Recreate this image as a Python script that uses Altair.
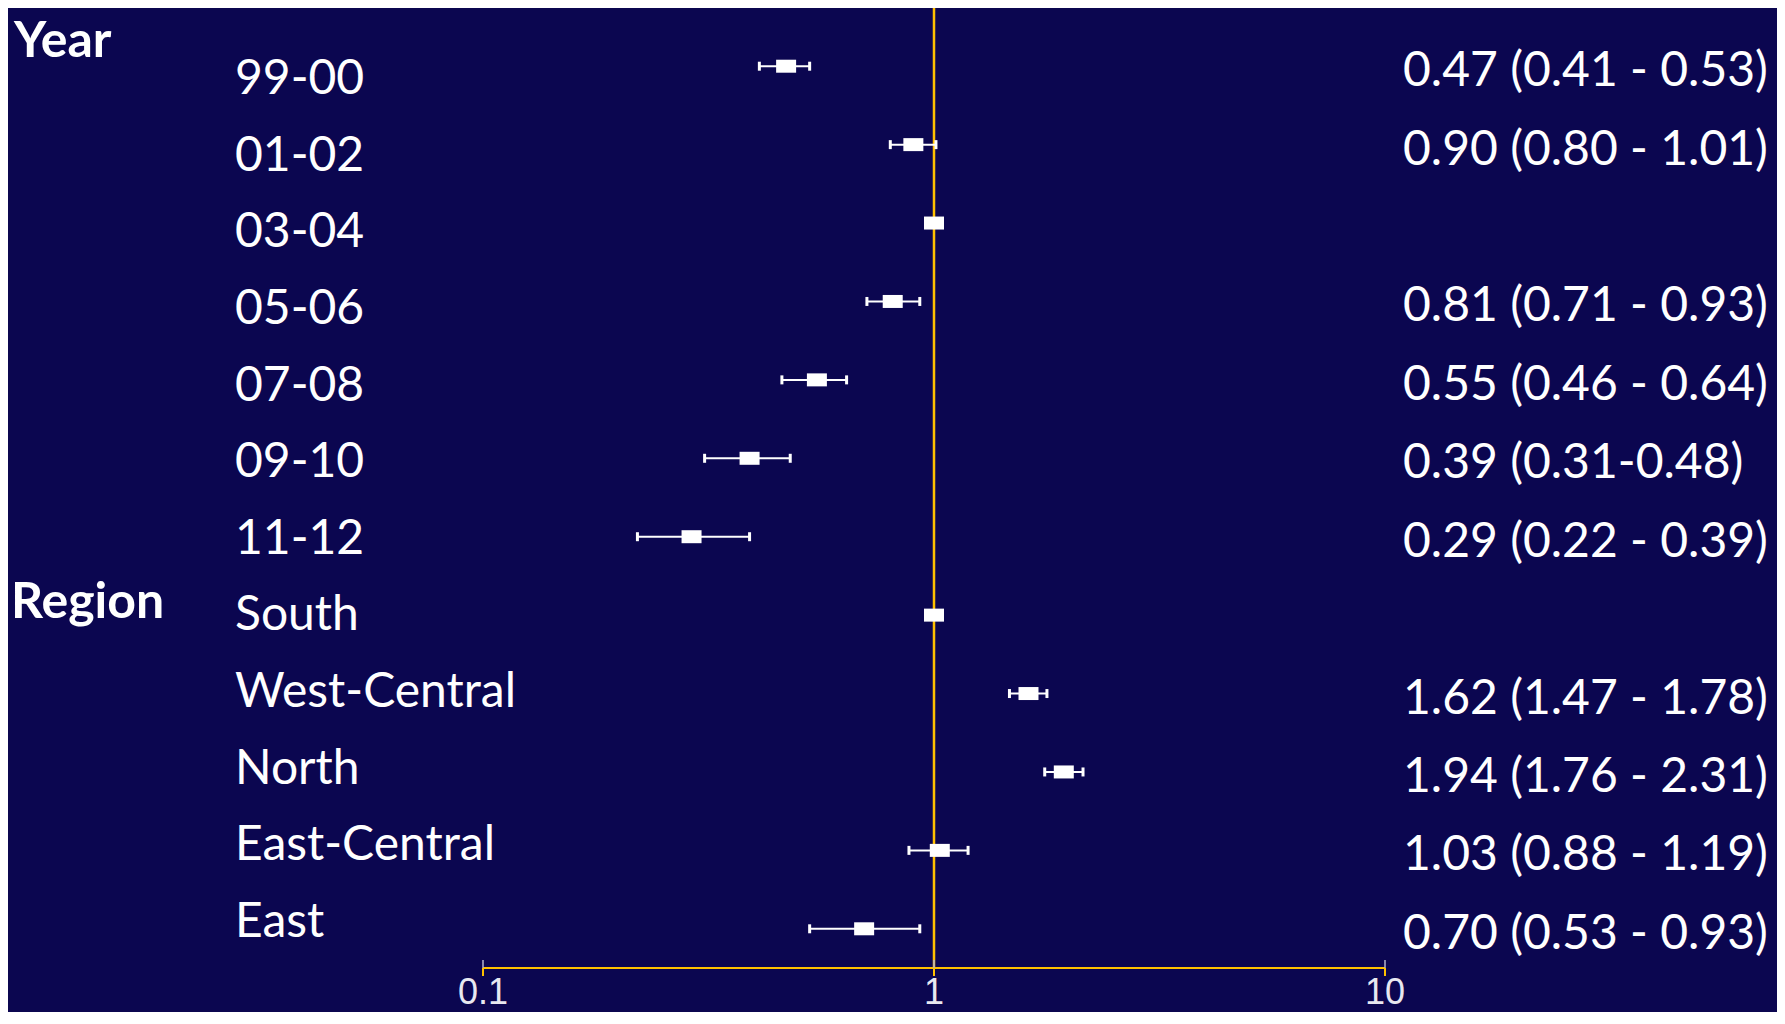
import altair as alt
import pandas as pd

# ---- data ----
labels = ["99-00", "01-02", "03-04", "05-06", "07-08", "09-10", "11-12",
          "South", "West-Central", "North", "East-Central", "East"]
or_values = [0.47, 0.90, 1.00, 0.81, 0.55, 0.39, 0.29,
             1.00, 1.62, 1.94, 1.03, 0.70]
# interval ends as drawn in the picture
ci_low = [0.41, 0.80, None, 0.71, 0.46, 0.31, 0.22,
          None, 1.47, 1.76, 0.88, 0.53]
ci_high = [0.53, 1.01, None, 0.93, 0.64, 0.48, 0.39,
           None, 1.78, 2.14, 1.19, 0.93]
ci_text = ["0.47 (0.41 - 0.53)", "0.90 (0.80 - 1.01)", "",
           "0.81 (0.71 - 0.93)", "0.55 (0.46 - 0.64)", "0.39 (0.31-0.48)",
           "0.29 (0.22 - 0.39)", "", "1.62 (1.47 - 1.78)",
           "1.94 (1.76 - 2.31)", "1.03 (0.88 - 1.19)", "0.70 (0.53 - 0.93)"]
headings = ["Year", "Region"]
heading_anchor = ["99-00", "South"]
tick_values = [0.1, 1, 10]
tick_labels = ["0.1", "1", "10"]
reference_value = [1.0]

# ---- styling ----
W, H = 902, 941
BG = "#0b0650"
GOLD = "#FFC000"
FONT = "Lato"

df = pd.DataFrame({"label": labels, "or": or_values, "lo": ci_low,
                   "hi": ci_high, "txt": ci_text})
ticks_df = pd.DataFrame({"v": tick_values, "t": tick_labels})

xs = alt.Scale(type="log", domain=[0.1, 10], nice=False)
y_row = alt.Y("label:N", sort=labels,
              scale=alt.Scale(type="point", padding=0.5, domain=labels),
              axis=None)

ref = alt.Chart(pd.DataFrame({"ref": reference_value})).mark_rule(
    color=GOLD, strokeWidth=2.5).encode(
    x=alt.X("ref:Q", scale=xs, axis=None),
    y=alt.value(-19), y2=alt.value(H))

axis_line = alt.Chart(pd.DataFrame({"a": [tick_values[0]], "b": [tick_values[-1]]})).mark_rule(
    color=GOLD, strokeWidth=2).encode(
    x=alt.X("a:Q", scale=xs, axis=None), x2="b:Q", y=alt.value(H))

tick_down = alt.Chart(ticks_df).mark_rule(color=GOLD, strokeWidth=2).encode(
    x=alt.X("v:Q", scale=xs, axis=None), y=alt.value(H), y2=alt.value(H + 8))
tick_up = alt.Chart(ticks_df).mark_rule(color="#b4b4cc", strokeWidth=1.5).encode(
    x=alt.X("v:Q", scale=xs, axis=None), y=alt.value(H - 8), y2=alt.value(H))
tick_text = alt.Chart(ticks_df).mark_text(
    font="Liberation Sans", fontSize=36, color="#e8e8f0",
    baseline="alphabetic", align="center").encode(
    x=alt.X("v:Q", scale=xs, axis=None), y=alt.value(H + 36), text="t:N")

base = alt.Chart(df)
err = base.mark_rule(color="white", strokeWidth=2).encode(
    x=alt.X("lo:Q", scale=xs, axis=None), x2="hi:Q", y=y_row)
caps = base.transform_fold(["lo", "hi"], as_=["k", "v"]).transform_filter(
    "isValid(datum.v)").mark_tick(
    color="white", thickness=3, size=9, opacity=1).encode(
    x=alt.X("v:Q", scale=xs, axis=None), y=y_row)
markers = base.mark_point(
    shape="M-1,-0.65L1,-0.65L1,0.65L-1,0.65Z", filled=True, color="white",
    size=400, opacity=1, strokeWidth=0).encode(
    x=alt.X("or:Q", scale=xs, axis=None), y=y_row)

right_text = base.mark_text(
    font=FONT, fontSize=48, color="white", align="left",
    baseline="middle", dy=6).encode(
    x=alt.value(920), y=y_row, text="txt:N")

left_text = base.mark_text(
    font=FONT, fontSize=48, color="white", align="left",
    baseline="middle").encode(
    x=alt.value(-248),
    y=alt.Y("label:N", sort=labels,
            scale=alt.Scale(type="point", padding=0, domain=labels,
                            range=[53, 896]),
            axis=None),
    text="label:N")

head_df = pd.DataFrame({"head": headings, "anchor": heading_anchor})
year_head = alt.Chart(head_df.iloc[[0]]).mark_text(
    font=FONT, fontSize=50, fontWeight="bold", color="white",
    align="left", baseline="middle", dy=-24).encode(
    x=alt.value(-469),
    y=alt.Y("anchor:N", scale=alt.Scale(type="point", padding=0.5, domain=labels), axis=None),
    text="head:N")
region_head = alt.Chart(head_df.iloc[[1]]).mark_text(
    font=FONT, fontSize=50, fontWeight="bold", color="white",
    align="left", baseline="middle", dy=-12).encode(
    x=alt.value(-472),
    y=alt.Y("anchor:N", scale=alt.Scale(type="point", padding=0.5, domain=labels), axis=None),
    text="head:N")

chart = alt.layer(
    ref, axis_line, tick_down, tick_up, tick_text,
    err, caps, markers, right_text, left_text, year_head, region_head
).resolve_scale(y="independent").properties(
    width=W, height=H,
    padding={"left": 475, "top": 19, "right": 392, "bottom": 44},
    autosize=alt.AutoSizeParams(type="none"),
    background=BG,
).configure_view(stroke=None)

chart.save("out.html", embed_options={"renderer": "svg", "actions": False})
